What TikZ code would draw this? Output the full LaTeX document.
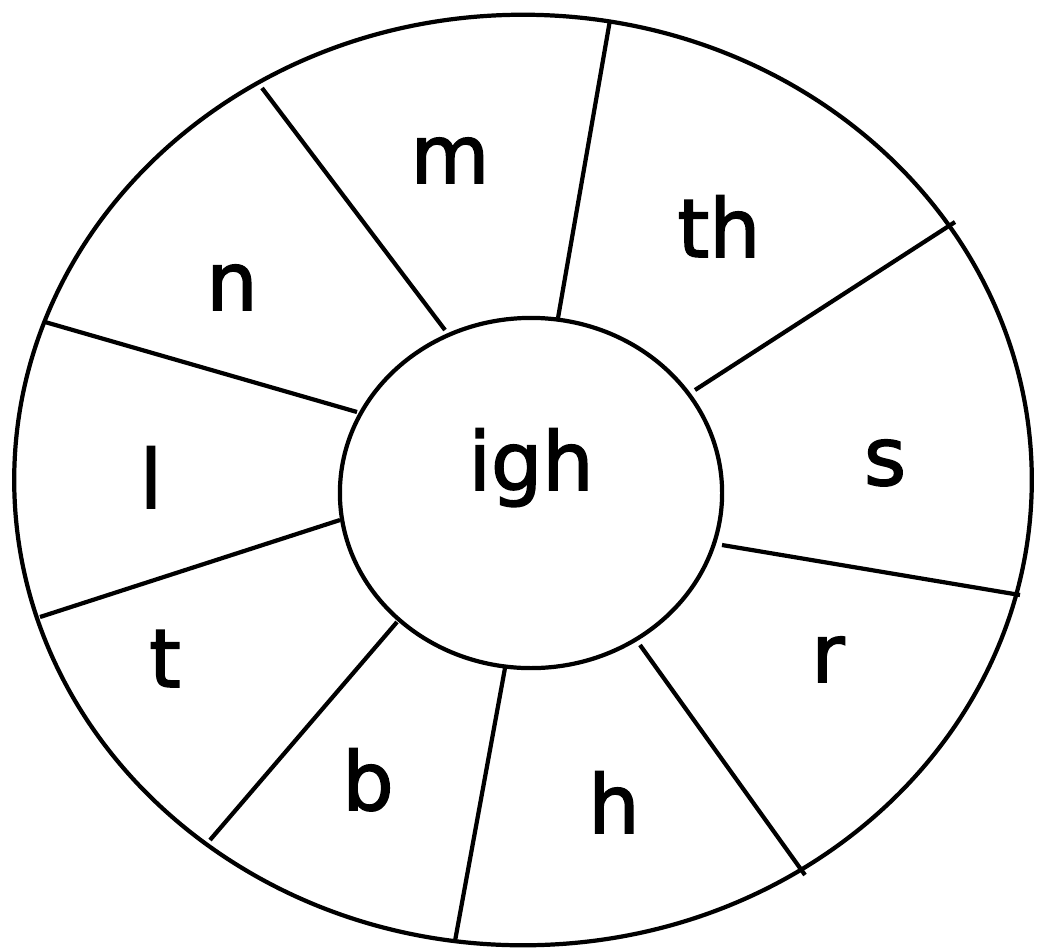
\documentclass[tikz,border=0pt]{standalone}
\usepackage{fontspec}
\setmainfont{DejaVu Sans}[BoldFont=DejaVu Sans, BoldFeatures={FakeBold=2}]
\usetikzlibrary{shapes.geometric}

\begin{document}
\begin{tikzpicture}[x=0.01cm, y=-0.01cm, line width=1.2pt,
    ring/.style={draw, ellipse, inner sep=0pt},
    letter/.style={anchor=base, inner sep=0pt, font=\fontsize{23}{27}\selectfont\bfseries}]
  \useasboundingbox (0,0) rectangle (1046,951);
  \node[ring, minimum width=10.17cm, minimum height=9.30cm] (outer) at (523,480) {};
  \node[ring, minimum width=3.82cm, minimum height=3.50cm] (hub) at (531,493) {};
  \node[letter] (igh) at (531,490) {igh};
  % spoke end points
  \coordinate (i1) at (445,330); \coordinate (o1) at (262,88);
  \coordinate (i2) at (558,318); \coordinate (o2) at (610,20);
  \coordinate (i3) at (695,390); \coordinate (o3) at (955,222);
  \coordinate (i4) at (722,545); \coordinate (o4) at (1020,595);
  \coordinate (i5) at (640,645); \coordinate (o5) at (805,875);
  \coordinate (i6) at (505,668); \coordinate (o6) at (455,941);
  \coordinate (i7) at (397,622); \coordinate (o7) at (210,840);
  \coordinate (i8) at (340,520); \coordinate (o8) at (40,617);
  \coordinate (i9) at (357,412); \coordinate (o9) at (45,322);
  \foreach \k in {1,...,9}
    \draw (i\k) -- (o\k);
  % onsets
  \node[letter] (m) at (450,183) {m};
  \node[letter] (th) at (719,257) {th};
  \node[letter] (s) at (885,485) {s};
  \node[letter] (r) at (828,682) {r};
  \node[letter] (h) at (614,833) {h};
  \node[letter] (b) at (368,810) {b};
  \node[letter] (t) at (165,687) {t};
  \node[letter] (l) at (151,508) {l};
  \node[letter] (n) at (232,310) {n};
\end{tikzpicture}
\end{document}
